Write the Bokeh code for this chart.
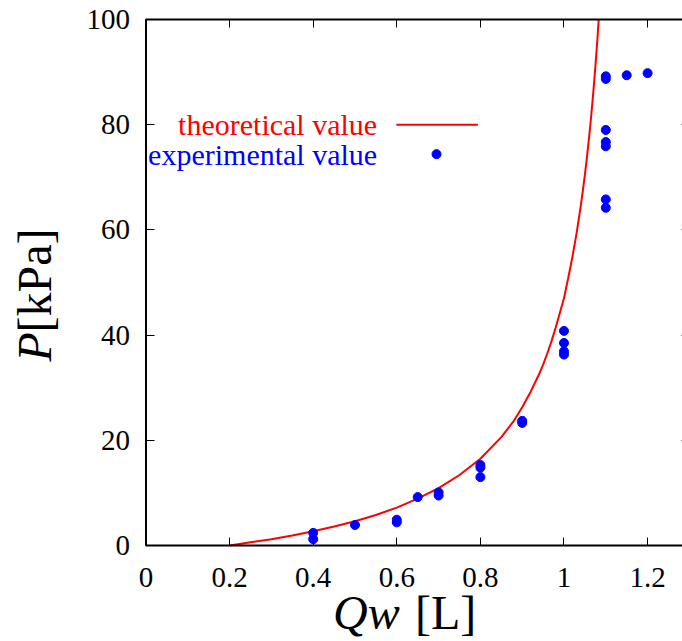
import math
from bokeh.plotting import figure
from bokeh.models import (Label, LinearAxis, FixedTicker, CustomJSTickFormatter,
                          Range1d, BoxAnnotation)
from bokeh.embed import file_html
from bokeh.resources import INLINE

# ---- data ----
theory_qw = [0.20, 0.25, 0.30, 0.35, 0.40, 0.45, 0.50, 0.55, 0.60, 0.65, 0.70, 0.75, 0.80,
             0.85, 0.88, 0.90, 0.92, 0.94, 0.95, 0.96, 0.97, 0.98, 0.99, 1.00, 1.01, 1.02,
             1.03, 1.04, 1.045, 1.05, 1.055, 1.06, 1.065, 1.07, 1.075, 1.08, 1.083]
theory_p = [0.0, 0.6, 1.2, 1.9, 2.7, 3.6, 4.6, 5.8, 7.2, 8.9, 10.9, 13.4, 16.5,
            20.6, 23.7, 26.3, 29.2, 32.5, 34.4, 36.5, 38.8, 41.4, 44.2, 47.0, 50.8, 54.8,
            59.3, 64.5, 67.4, 70.5, 73.9, 77.6, 81.6, 86.1, 91.0, 96.3, 100.0]

exp_qw = [0.4, 0.4, 0.5, 0.6, 0.6, 0.65, 0.7, 0.7, 0.8, 0.8, 0.8, 0.9, 0.9,
          1.0, 1.0, 1.0, 1.0, 1.1, 1.1, 1.1, 1.1, 1.1, 1.1, 1.1, 1.15, 1.2]
exp_p = [2.4, 1.2, 3.9, 4.9, 4.4, 9.2, 10.1, 9.5, 15.3, 14.8, 13.0, 23.7, 23.3,
         40.8, 38.5, 36.9, 36.3, 89.2, 88.7, 79.0, 76.7, 75.9, 65.8, 64.2, 89.4, 89.8]

x_ticks = [0, 0.2, 0.4, 0.6, 0.8, 1.0, 1.2]
y_ticks = [0, 20, 40, 60, 80, 100]

legend_labels = ["theoretical value", "experimental value"]
x_title = ["Qw", "[L]"]
y_title = ["P", "[kPa]"]

# ---- plot box (data limits) and canvas ranges ----
BOX_X = (0.0, 1.30)
BOX_Y = (0.0, 100.0)
X_RANGE = (-0.3481, 1.2835)
Y_RANGE = (-18.25, 103.61)

FONT = "Liberation Serif"
RED = "#ff0000"
BLUE = "#0000ff"

p = figure(width=682, height=641, title=None,
           x_range=Range1d(*X_RANGE), y_range=Range1d(*Y_RANGE),
           output_backend="svg", toolbar_location=None,
           min_border=0, min_border_left=0, min_border_right=0,
           min_border_top=0, min_border_bottom=0)
p.xgrid.visible = False
p.ygrid.visible = False
p.background_fill_color = "white"
p.border_fill_color = "white"
p.outline_line_color = None

# frame box
p.add_layout(BoxAnnotation(left=BOX_X[0], right=BOX_X[1], bottom=BOX_Y[0], top=BOX_Y[1],
                           fill_alpha=0, fill_color=None, line_color="black",
                           line_width=2, line_alpha=1))

p.xaxis.ticker = FixedTicker(ticks=x_ticks)
p.xaxis.formatter = CustomJSTickFormatter(code="return String(Math.round(tick*100)/100);")
p.yaxis.ticker = FixedTicker(ticks=y_ticks)
p.xaxis.fixed_location = BOX_Y[0]
p.yaxis.fixed_location = BOX_X[0]
p.xaxis.major_label_standoff = 22
p.yaxis.major_label_standoff = 16

for ax in list(p.xaxis) + list(p.yaxis):
    ax.axis_line_color = None
    ax.major_tick_in = 8
    ax.major_tick_out = 0
    ax.minor_tick_in = 0
    ax.minor_tick_out = 0
    ax.major_tick_line_color = "black"
    ax.major_tick_line_width = 1
    ax.major_label_text_font = FONT
    ax.major_label_text_font_size = "29px"
    ax.major_label_text_color = "black"

# mirror ticks on top and right
blank = CustomJSTickFormatter(code="return '';")
top = LinearAxis(ticker=FixedTicker(ticks=x_ticks), formatter=blank, fixed_location=BOX_Y[1],
                 axis_line_color=None, major_tick_in=8, major_tick_out=0,
                 minor_tick_in=0, minor_tick_out=0, major_label_standoff=0,
                 major_label_text_font_size="1px", major_tick_line_color="black")
right = LinearAxis(ticker=FixedTicker(ticks=y_ticks), formatter=blank, fixed_location=BOX_X[1],
                   axis_line_color=None, major_tick_in=8, major_tick_out=0,
                   minor_tick_in=0, minor_tick_out=0, major_label_standoff=0,
                   major_label_text_font_size="1px", major_tick_line_color="black")
p.add_layout(top, "above")
p.add_layout(right, "right")

# data
p.line(theory_qw, theory_p, line_color=RED, line_width=2)
p.scatter(exp_qw, exp_p, size=9, marker="circle", fill_color=BLUE, line_color=BLUE)

# gnuplot-style key (text left of sample)
KEY_TEXT_X = 0.553
KEY_Y = [80.0, 74.4]
KEY_LINE_X = [0.599, 0.794]
KEY_DOT_X = 0.695
p.add_layout(Label(x=KEY_TEXT_X, y=KEY_Y[0], text=legend_labels[0], text_align="right",
                   text_baseline="middle", text_font=FONT, text_font_size="30px",
                   text_color=RED))
p.add_layout(Label(x=KEY_TEXT_X, y=KEY_Y[1], text=legend_labels[1], text_align="right",
                   text_baseline="middle", text_font=FONT, text_font_size="30px",
                   text_color=BLUE))
p.line(KEY_LINE_X, [KEY_Y[0], KEY_Y[0]], line_color=RED, line_width=2)
p.scatter([KEY_DOT_X], [KEY_Y[1]], size=9, marker="circle", fill_color=BLUE, line_color=BLUE)

# axis titles (italic symbol + upright unit), offsets in pixels from the box corner
p.add_layout(Label(x=0, y=0, x_offset=-112, y_offset=184, text=y_title[0], angle=math.pi / 2,
                   text_align="left", text_baseline="middle", text_font=FONT,
                   text_font_style="italic", text_font_size="48px", text_color="black"))
p.add_layout(Label(x=0, y=0, x_offset=-112, y_offset=213, text=y_title[1], angle=math.pi / 2,
                   text_align="left", text_baseline="middle", text_font=FONT,
                   text_font_size="48px", text_color="black"))
p.add_layout(Label(x=0, y=0, x_offset=187, y_offset=-67, text=x_title[0],
                   text_align="left", text_baseline="alphabetic", text_font=FONT,
                   text_font_style="italic", text_font_size="48px", text_color="black"))
p.add_layout(Label(x=0, y=0, x_offset=269, y_offset=-67, text=x_title[1],
                   text_align="left", text_baseline="alphabetic", text_font=FONT,
                   text_font_size="48px", text_color="black"))

open("out.html", "w").write(file_html(p, INLINE))
